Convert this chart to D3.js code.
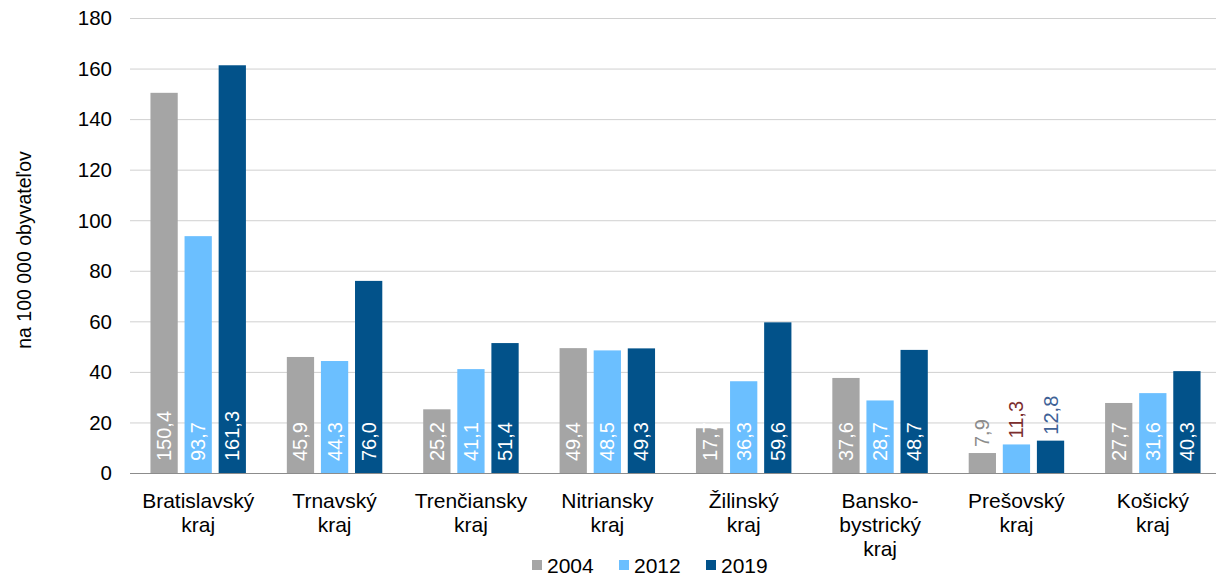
<!DOCTYPE html>
<html><head><meta charset="utf-8">
<script src="https://cdn.jsdelivr.net/npm/d3@7"></script>
<style>body{margin:0;background:#fff;} text{font-family:"Liberation Sans",Arial,sans-serif;}</style>
</head><body>
<svg id="c" width="1216" height="576"></svg>
<script>
const categories = [["Bratislavský","kraj"],["Trnavský","kraj"],["Trenčiansky","kraj"],["Nitriansky","kraj"],["Žilinský","kraj"],["Bansko-","bystrický","kraj"],["Prešovský","kraj"],["Košický","kraj"]];
const series = ["2004","2012","2019"];
const v2004 = [150.4,45.9,25.2,49.4,17.7,37.6,7.9,27.7];
const v2012 = [93.7,44.3,41.1,48.5,36.3,28.7,11.3,31.6];
const v2019 = [161.3,76.0,51.4,49.3,59.6,48.7,12.8,40.3];
const yTicks = [0,20,40,60,80,100,120,140,160,180];
const colors = ["#A5A5A5","#6BBFFF","#02528A"];
const outsideColors = ["#8C8C8C","#7B2E2E","#3F6296"];

const values = [v2004,v2012,v2019];
const svg = d3.select("#c");
const x0 = d3.scaleBand().domain(d3.range(categories.length)).range([130,1221]).paddingInner(0).paddingOuter(0);
const x1 = d3.scaleBand().domain(series).range([0,x0.bandwidth()]).paddingInner(0.2).paddingOuter(0.6);
const y = d3.scaleLinear().domain([0,180]).range([473,18]);

// grid
svg.append("g").selectAll("line").data(yTicks).join("line")
  .attr("x1",130).attr("x2",1216).attr("y1",d=>y(d)+0.5).attr("y2",d=>y(d)+0.5)
  .attr("stroke",d=>d===0?"#8c8c8c":"#d0d0d0").attr("stroke-width",1);
// y labels
svg.append("g").selectAll("text").data(yTicks).join("text")
  .attr("x",112).attr("y",d=>y(d)).attr("dy","0.36em").attr("text-anchor","end")
  .attr("font-size",20.5).attr("fill","#000").text(d=>d);
svg.append("text").attr("transform","translate(31,250) rotate(-90)").attr("text-anchor","middle")
  .attr("font-size",19.5).attr("fill","#000").text("na 100 000 obyvateľov");

// bars
const g = svg.append("g");
categories.forEach((c,i)=>{
  series.forEach((s,j)=>{
    const v = values[j][i];
    const bx = x0(i)+x1(s);
    const bw = x1.bandwidth();
    g.append("rect").attr("x",bx).attr("y",y(v)).attr("width",bw).attr("height",y(0)-y(v)).attr("fill",colors[j]);
    const small = v < 15;
    const tx = bx+bw/2;
    const ty = small ? y(v)-6 : y(0)-12;
    g.append("text").attr("transform",`translate(${tx+7},${ty}) rotate(-90)`)
      .attr("text-anchor","start").attr("font-size",20)
      .attr("fill", small ? outsideColors[j] : "#fff")
      .text(d3.format(".1f")(v).replace(".",","));
  });
  const t = svg.append("text").attr("text-anchor","middle").attr("font-size",21).attr("fill","#000");
  c.forEach((line,k)=>{
    t.append("tspan").attr("x",x0(i)+x0.bandwidth()/2).attr("y",508+k*24).text(line);
  });
});

// legend
const lx = [532,619,706];
series.forEach((s,j)=>{
  svg.append("rect").attr("x",lx[j]).attr("y",560).attr("width",10).attr("height",10).attr("fill",colors[j]);
  svg.append("text").attr("x",lx[j]+15).attr("y",573).attr("font-size",21).attr("fill","#000").text(s);
});
</script>
</body></html>
